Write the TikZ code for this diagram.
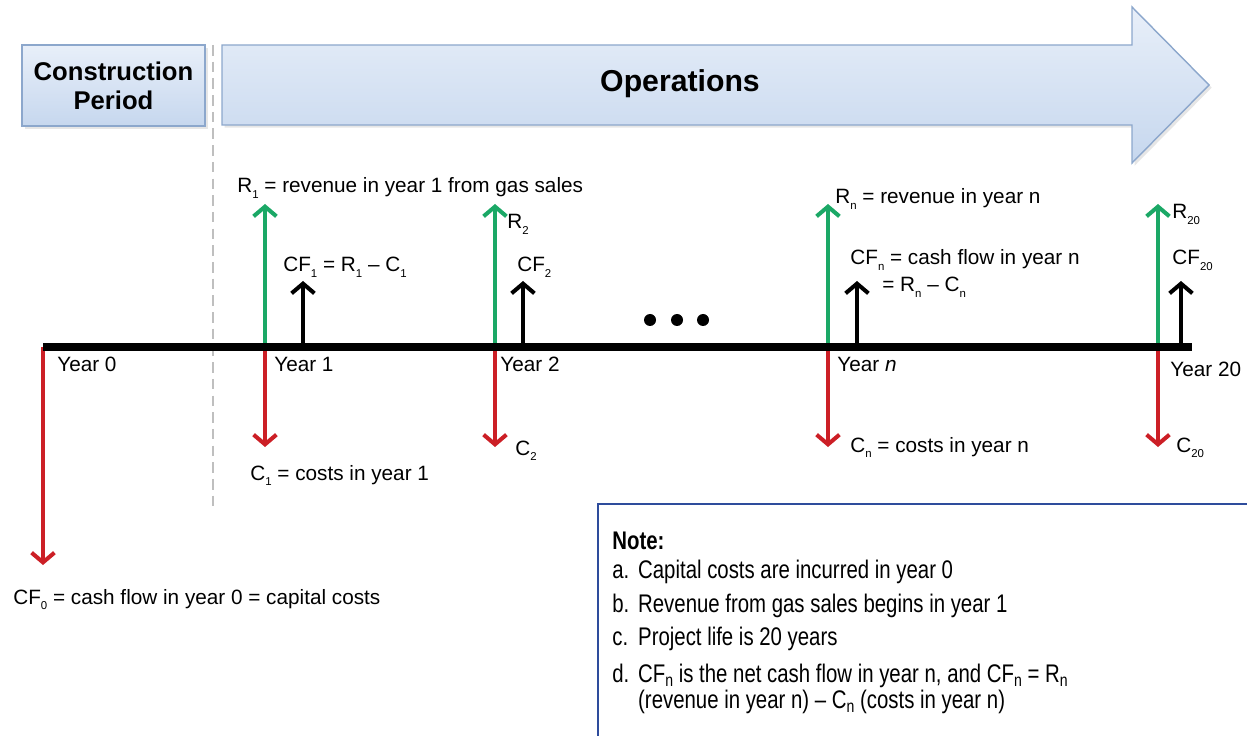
\documentclass[tikz,border=0pt]{standalone}
\usepackage{fontspec}
\setmainfont{Liberation Sans}
\newfontfamily\notefont[FakeStretch=0.8]{Liberation Sans}
\usetikzlibrary{arrows.meta,shadows}
\definecolor{revgreen}{HTML}{1BA866}
\definecolor{costred}{HTML}{CC1F26}
\definecolor{boxtop}{HTML}{E8EFF9}
\definecolor{boxbot}{HTML}{C6D7EE}
\definecolor{boxline}{HTML}{8CA7CC}
\definecolor{noteblue}{HTML}{2E4C9C}
% small lowered indices
\newcommand{\lo}[1]{\raisebox{-0.5ex}{\fontsize{6.5pt}{7pt}\selectfont #1}}
\newcommand{\nlo}[1]{\raisebox{-0.3ex}{\fontsize{10pt}{10pt}\selectfont #1}}
\tikzset{
  lbl/.style={anchor=base west, inner sep=0pt, font=\fontsize{11.8pt}{14pt}\selectfont},
  notelbl/.style={anchor=base west, inner sep=0pt, font=\notefont\fontsize{14.5pt}{17pt}\selectfont},
  flow/.style={line width=2.3pt, -{Straight Barb[length=5.5pt,width=13pt]}},
  rev/.style={flow, revgreen},
  cost/.style={flow, costred},
  cash/.style={flow, black},
  banner/.style={draw=boxline, line width=0.8pt, top color=boxtop, bottom color=boxbot,
    drop shadow={shadow xshift=1.5pt, shadow yshift=-1.5pt, opacity=0.2}},
}
\newcommand{\noteitem}[2]{\makebox[14.7pt][l]{#1}#2}
\begin{document}
\begin{tikzpicture}[x=0.02cm, y=-0.02cm]
  \useasboundingbox (0,0) rectangle (1247,736);

  % phase banners
  \node[banner, minimum width=183*0.02cm, minimum height=81*0.02cm, align=center,
    font=\bfseries\fontsize{14.6pt}{16.5pt}\selectfont] (cons) at (113.5,85.5) {Construction\\Period};
  \path[banner] (222,45) -- (1132,45) -- (1132,7) -- (1209,85) -- (1132,163) -- (1132,125) -- (222,125) -- cycle;
  \node[font=\bfseries\fontsize{17.2pt}{20pt}\selectfont] (ops) at (680,84) {Operations};
  \draw[gray!50, line width=1.7pt, dash pattern=on 6pt off 3.5pt] (213,45) -- (213,512);

  % year 0
  \coordinate (t0) at (43,347);
  \coordinate (c0) at (43,565);
  \draw[cost] (t0) -- (c0);

  % years with revenue, cost and cash flow
  \foreach \nm/\x/\cx in {1/265/303, 2/495/523, n/828/857, 20/1158/1181} {
    \coordinate (t\nm) at (\x,347);
    \coordinate (r\nm) at (\x,204);
    \coordinate (c\nm) at (\x,447);
    \coordinate (b\nm) at (\cx,347);
    \coordinate (f\nm) at (\cx,281);
    \draw[rev] (t\nm) -- (r\nm);
    \draw[cost] (t\nm) -- (c\nm);
    \draw[cash] (b\nm) -- (f\nm);
  }

  % time line
  \coordinate (tend) at (1192,347);
  \draw[line width=4pt] (t0) -- (tend);
  \foreach \x in {650,677,703} \fill (\x,320) circle (6);

  % labels
  \node[lbl] (ly0) at (57,372) {Year 0};
  \node[lbl] (ly1) at (274,372) {Year 1};
  \node[lbl] (ly2) at (500,372) {Year 2};
  \node[lbl] (lyn) at (837,372) {Year \textit{n}};
  \node[lbl] (ly20) at (1170,377) {Year 20};
  \node[lbl] (lr1) at (237,193) {R\lo{1} = revenue in year 1 from gas sales};
  \node[lbl] (lcf1) at (283,272) {CF\lo{1} = R\lo{1} – C\lo{1}};
  \node[lbl] (lr2) at (507,229) {R\lo{2}};
  \node[lbl] (lcf2) at (517,272) {CF\lo{2}};
  \node[lbl] (lrn) at (835,204) {R\lo{n} = revenue in year n};
  \node[lbl] (lcfn) at (850,265) {CF\lo{n} = cash flow in year n};
  \node[lbl] (lcfn2) at (882,292) {= R\lo{n} – C\lo{n}};
  \node[lbl] (lr20) at (1172,219) {R\lo{20}};
  \node[lbl] (lcf20) at (1172,265) {CF\lo{20}};
  \node[lbl] (lc1) at (250,480) {C\lo{1} = costs in year 1};
  \node[lbl] (lc2) at (515,455) {C\lo{2}};
  \node[lbl] (lcn) at (850,452) {C\lo{n} = costs in year n};
  \node[lbl] (lc20) at (1176,452) {C\lo{20}};
  \node[lbl] (lcf0) at (13,604) {CF\lo{0} = cash flow in year 0 = capital costs};

  % note box
  \draw[noteblue, line width=1.2pt] (598,504) rectangle (1260,750);
  \node[notelbl, font=\notefont\bfseries\fontsize{14.5pt}{17pt}\selectfont] (note) at (612,549) {Note:};
  \node[notelbl] (na) at (612,578) {\noteitem{a.}{Capital costs are incurred in year 0}};
  \node[notelbl] (nb) at (612,612) {\noteitem{b.}{Revenue from gas sales begins in year 1}};
  \node[notelbl] (nc) at (612,645) {\noteitem{c.}{Project life is 20 years}};
  \node[notelbl] (nd) at (612,682) {\noteitem{d.}{CF\nlo{n} is the net cash flow in year n, and CF\nlo{n} = R\nlo{n}}};
  \node[notelbl] (nd2) at (612,708) {\noteitem{}{(revenue in year n) – C\nlo{n} (costs in year n)}};
\end{tikzpicture}
\end{document}
